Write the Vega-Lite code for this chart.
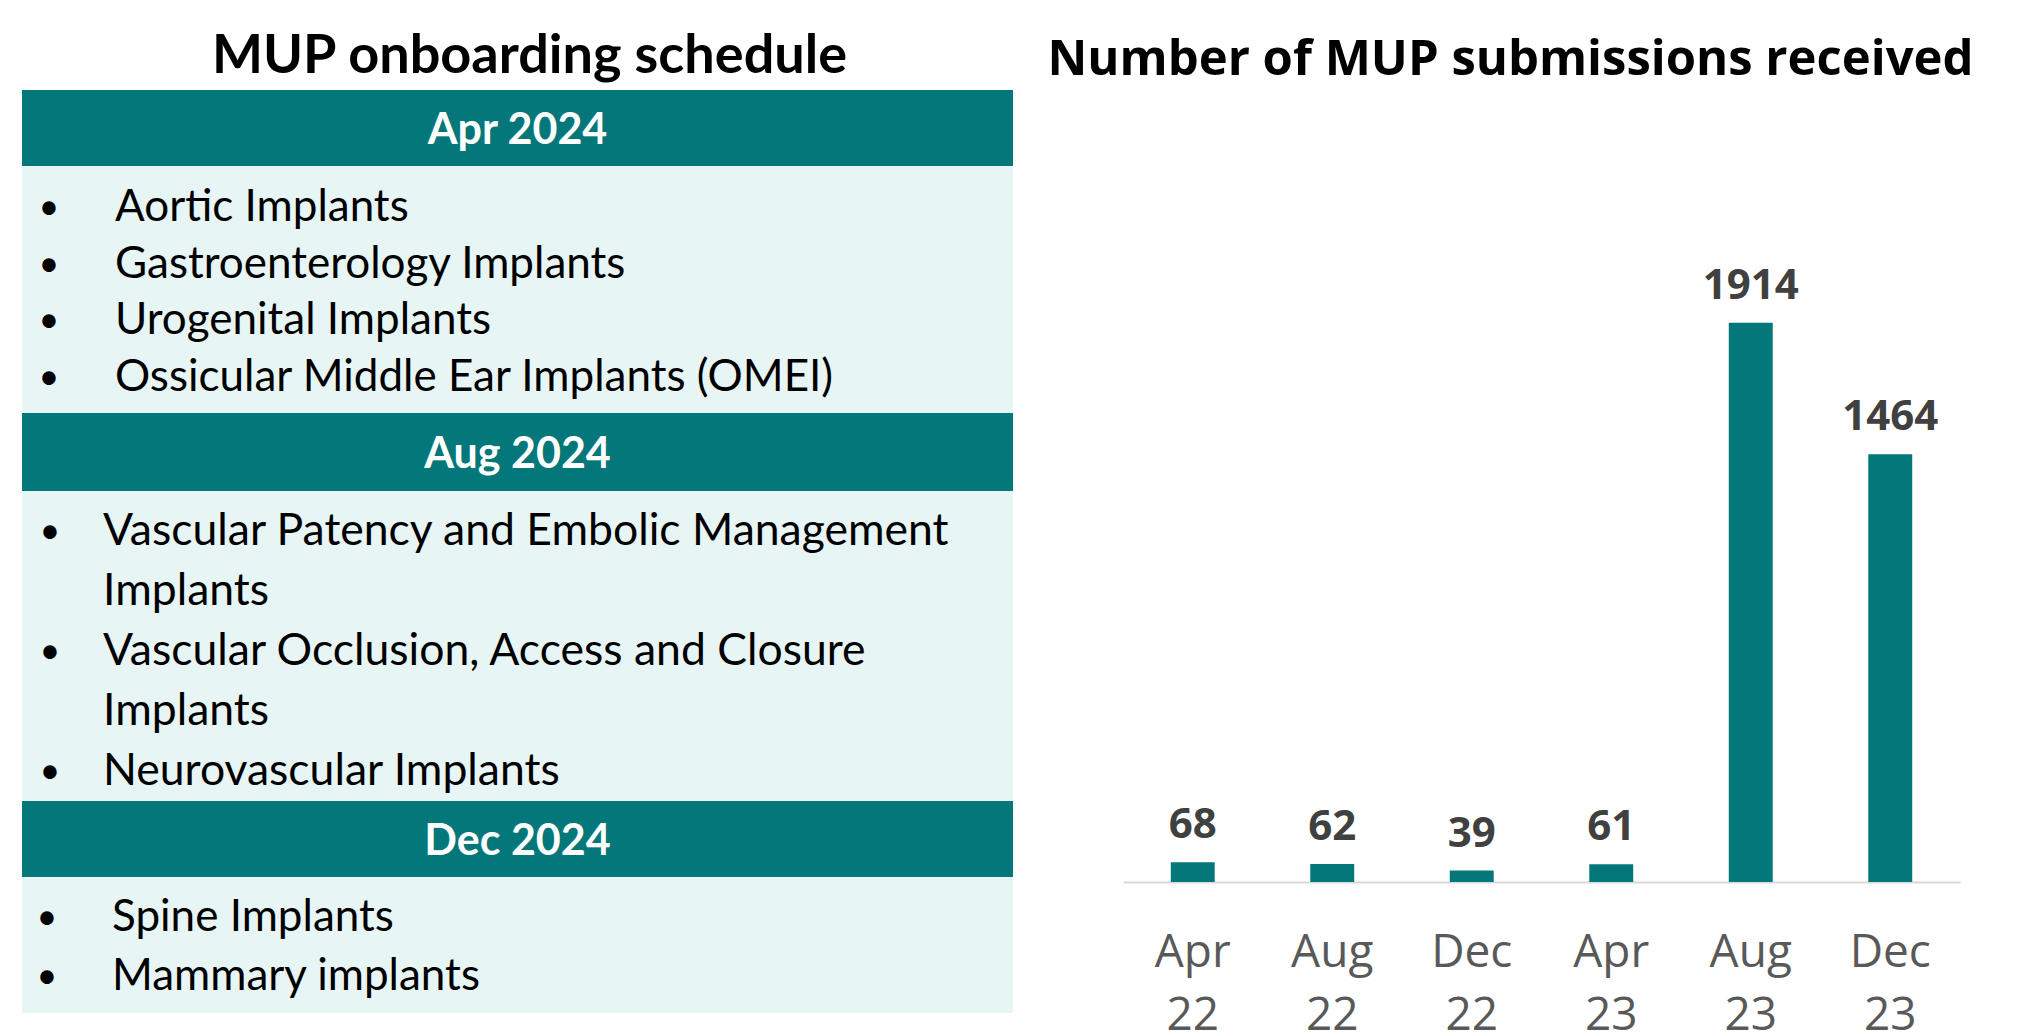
{
  "$schema": "https://vega.github.io/schema/vega-lite/v6.json",
  "padding": {"left": 22, "top": 30, "right": 0, "bottom": 0},
  "background": "white",
  "config": {"view": {"stroke": null}},
  "datasets": {
    "sections": [{"section": "Apr 2024"}, {"section": "Aug 2024"}, {"section": "Dec 2024"}],
    "items": [
      {"section": "Apr 2024", "line": 1, "bullet": "•", "text": "Aortic Implants"},
      {"section": "Apr 2024", "line": 2, "bullet": "•", "text": "Gastroenterology Implants"},
      {"section": "Apr 2024", "line": 3, "bullet": "•", "text": "Urogenital Implants"},
      {"section": "Apr 2024", "line": 4, "bullet": "•", "text": "Ossicular Middle Ear Implants (OMEI)"},
      {"section": "Aug 2024", "line": 1, "bullet": "•", "text": "Vascular Patency and Embolic Management"},
      {"section": "Aug 2024", "line": 2, "bullet": "", "text": "Implants"},
      {"section": "Aug 2024", "line": 3, "bullet": "•", "text": "Vascular Occlusion, Access and Closure"},
      {"section": "Aug 2024", "line": 4, "bullet": "", "text": "Implants"},
      {"section": "Aug 2024", "line": 5, "bullet": "•", "text": "Neurovascular Implants"},
      {"section": "Dec 2024", "line": 1, "bullet": "•", "text": "Spine Implants"},
      {"section": "Dec 2024", "line": 2, "bullet": "•", "text": "Mammary implants"}
    ],
    "subs": [
      {"period": "Apr 22", "count": 68},
      {"period": "Aug 22", "count": 62},
      {"period": "Dec 22", "count": 39},
      {"period": "Apr 23", "count": 61},
      {"period": "Aug 23", "count": 1914},
      {"period": "Dec 23", "count": 1464}
    ]
  },
  "spacing": 34,
  "hconcat": [
    {
      "title": {"text": "MUP onboarding schedule", "font": "Lato", "fontSize": 54, "fontWeight": "bold", "color": "#000000", "anchor": "middle", "baseline": "alphabetic", "offset": -37, "dx": 12},
      "spacing": 0,
      "vconcat": [
        {
          "width": 991, "height": 76,
          "view": {"fill": "#037779", "stroke": null},
          "data": {"name": "sections"},
          "transform": [{"filter": "datum.section === 'Apr 2024'"}],
          "mark": {"type": "text", "font": "Lato", "fontSize": 43, "fontWeight": "bold", "color": "#ffffff", "baseline": "middle", "dy": 3},
          "encoding": {"text": {"field": "section"}}
        },
        {
          "width": 991, "height": 247,
          "view": {"fill": "#E8F5F5", "stroke": null},
          "data": {"name": "items"},
          "transform": [{"filter": "datum.section === 'Apr 2024'"}],
          "encoding": {"y": {"field": "line", "type": "ordinal", "axis": null, "scale": {"type": "point", "padding": 0.678, "align": 0.546}}},
          "layer": [
            {"mark": {"type": "text", "font": "Lato", "fontSize": 36, "align": "center", "baseline": "middle", "color": "#000000"}, "encoding": {"x": {"value": 27}, "text": {"field": "bullet"}}},
            {"mark": {"type": "text", "font": "Lato", "fontSize": 44, "align": "left", "baseline": "middle", "color": "#000000"}, "encoding": {"x": {"value": 93}, "text": {"field": "text"}}}
          ]
        },
        {
          "width": 991, "height": 78,
          "view": {"fill": "#037779", "stroke": null},
          "data": {"name": "sections"},
          "transform": [{"filter": "datum.section === 'Aug 2024'"}],
          "mark": {"type": "text", "font": "Lato", "fontSize": 43, "fontWeight": "bold", "color": "#ffffff", "baseline": "middle", "dy": 3},
          "encoding": {"text": {"field": "section"}}
        },
        {
          "width": 991, "height": 310,
          "view": {"fill": "#E8F5F5", "stroke": null},
          "data": {"name": "items"},
          "transform": [{"filter": "datum.section === 'Aug 2024'"}],
          "encoding": {"y": {"field": "line", "type": "ordinal", "axis": null, "scale": {"type": "point", "padding": 0.583, "align": 0.586}}},
          "layer": [
            {"mark": {"type": "text", "font": "Lato", "fontSize": 36, "align": "center", "baseline": "middle", "color": "#000000"}, "encoding": {"x": {"value": 28}, "text": {"field": "bullet"}}},
            {"mark": {"type": "text", "font": "Lato", "fontSize": 44.5, "align": "left", "baseline": "middle", "color": "#000000"}, "encoding": {"x": {"value": 81}, "text": {"field": "text"}}}
          ]
        },
        {
          "width": 991, "height": 76,
          "view": {"fill": "#037779", "stroke": null},
          "data": {"name": "sections"},
          "transform": [{"filter": "datum.section === 'Dec 2024'"}],
          "mark": {"type": "text", "font": "Lato", "fontSize": 43, "fontWeight": "bold", "color": "#ffffff", "baseline": "middle", "dy": 3},
          "encoding": {"text": {"field": "section"}}
        },
        {
          "width": 991, "height": 136,
          "view": {"fill": "#E8F5F5", "stroke": null},
          "data": {"name": "items"},
          "transform": [{"filter": "datum.section === 'Dec 2024'"}],
          "encoding": {"y": {"field": "line", "type": "ordinal", "axis": null, "scale": {"type": "point", "padding": 0.653, "align": 0.532}}},
          "layer": [
            {"mark": {"type": "text", "font": "Lato", "fontSize": 36, "align": "center", "baseline": "middle", "color": "#000000"}, "encoding": {"x": {"value": 25}, "text": {"field": "bullet"}}},
            {"mark": {"type": "text", "font": "Lato", "fontSize": 44, "align": "left", "baseline": "middle", "color": "#000000"}, "encoding": {"x": {"value": 90}, "text": {"field": "text"}}}
          ]
        }
      ]
    },
    {
      "width": 837, "height": 792,
      "title": {"text": "Number of MUP submissions received", "font": "Open Sans", "fontSize": 49, "fontWeight": "bold", "color": "#000000", "anchor": "middle", "frame": "group", "baseline": "alphabetic", "offset": -34, "dx": -31},
      "data": {"name": "subs"},
      "encoding": {
        "x": {"field": "period", "type": "nominal", "sort": null,
              "scale": {"paddingInner": 0.685, "paddingOuter": 0.3425},
              "axis": {"title": null, "labelAngle": 0, "ticks": false, "tickSize": 0, "domainColor": "#D9D9D9", "domainWidth": 2, "labelFont": "Open Sans", "labelFontSize": 46, "labelColor": "#595959", "labelPadding": 48, "labelLineHeight": 63, "labelExpr": "split(datum.label, ' ')"}},
        "y": {"field": "count", "type": "quantitative", "scale": {"domain": [0, 2710], "nice": false}, "axis": null}
      },
      "layer": [
        {"mark": {"type": "bar", "color": "#037779"}},
        {"mark": {"type": "text", "font": "Open Sans", "fontSize": 42, "fontWeight": "bold", "color": "#404040", "baseline": "alphabetic", "dy": -24},
         "encoding": {"text": {"field": "count", "type": "quantitative", "format": "d"}}}
      ]
    }
  ]
}
